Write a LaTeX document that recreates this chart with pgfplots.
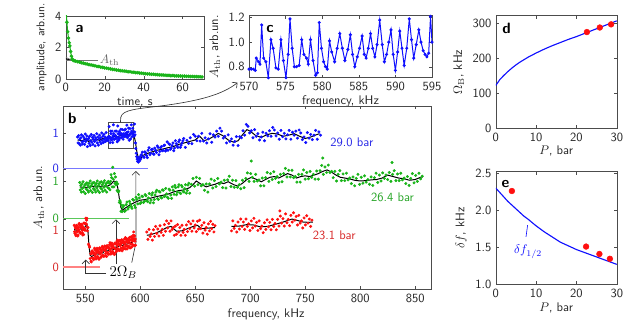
\documentclass[border=0pt]{standalone}
\usepackage{pgfplots}
\pgfplotsset{compat=1.18}
\usepackage{pgfplotstable}
\usetikzlibrary{arrows.meta}
\renewcommand{\familydefault}{\sfdefault}
\definecolor{pblue}{RGB}{15,15,255}
\definecolor{pgreen}{RGB}{25,180,25}
\definecolor{pred}{RGB}{255,15,15}
\definecolor{lblue}{RGB}{120,120,255}
\definecolor{lgreen}{RGB}{90,200,90}
\definecolor{lred}{RGB}{255,130,130}
\definecolor{tblue}{RGB}{40,40,230}
\definecolor{tgreen}{RGB}{40,165,40}
\definecolor{tred}{RGB}{215,40,40}
\pgfplotsset{
  myax/.style={scale only axis, anchor=south west,
    axis line style={black!70}, tick style={black!70}, major tick length=2.5pt,
    tick label style={font=\normalsize, text=black!85},
    label style={font=\normalsize, text=black!85},
    /pgf/number format/assume math mode=true},
  dec1/.style={yticklabel style={/pgf/number format/.cd, fixed, fixed zerofill, precision=1}},
}
% ---------------- panel a
\pgfplotstableread{
x y
0.3 4.2
0.6 3.6
1.0 3.0
1.4 2.6
1.8 2.3
2.1 2.1
2.5 1.75
2.9 1.45
3.3 1.27
3.8 1.19
4.3 1.16
5 1.14
6 1.10
7 1.08
8 1.03
9 1.01
10 0.97
11 0.95
12 0.91
13 0.89
14 0.86
15 0.84
16 0.80
17 0.79
18 0.75
19 0.74
20 0.70
21 0.69
22 0.66
23 0.64
24 0.61
25 0.60
26 0.57
27 0.56
28 0.53
29 0.52
30 0.50
31 0.49
32 0.46
33 0.46
34 0.43
35 0.43
36 0.40
37 0.40
38 0.37
39 0.37
40 0.35
41 0.34
42 0.32
43 0.32
44 0.30
45 0.30
46 0.28
47 0.28
48 0.26
49 0.26
50 0.25
51 0.24
52 0.23
53 0.23
54 0.21
55 0.22
56 0.20
57 0.20
58 0.19
59 0.19
60 0.18
61 0.18
62 0.17
63 0.17
64 0.16
65 0.16
66 0.15
67 0.15
68 0.14
69 0.14
70 0.13
}\adata
\pgfplotstableread{
x y
0 1.28
5 1.15
10 0.98
15 0.83
20 0.69
25 0.58
30 0.49
35 0.42
40 0.36
45 0.31
50 0.26
55 0.22
60 0.19
65 0.17
70 0.15
}\afit
% ---------------- panel c (also blue 570-595 in b)
\pgfplotstableread{
x y
570.0 0.78
570.3 0.78
570.6 0.78
570.85 0.77
571.0 0.87
571.3 0.84
571.5 0.82
571.73 1.14
572.0 0.87
572.3 0.84
572.64 0.71
573.0 1.02
573.3 0.95
573.68 0.79
574.0 0.78
574.36 1.02
574.7 0.85
575.05 0.71
575.35 0.90
575.6 1.19
575.9 0.95
576.2 0.80
576.5 0.80
576.85 0.81
577.2 1.02
577.5 0.90
577.86 0.87
578.1 0.82
578.4 1.02
578.75 0.85
579.1 0.73
579.35 0.75
579.6 1.16
579.9 0.95
580.2 0.84
580.45 0.80
580.7 0.78
581.0 1.01
581.3 0.92
581.7 0.84
582.05 0.95
582.4 1.07
582.75 0.95
583.1 0.85
583.5 0.94
583.85 1.06
584.15 0.90
584.45 0.80
584.8 0.88
585.1 0.95
585.45 1.05
585.75 0.90
586.0 0.87
586.3 0.95
586.6 1.07
586.9 0.95
587.2 0.88
587.5 0.98
587.86 1.18
588.2 0.98
588.5 0.84
588.8 0.90
589.1 1.00
589.4 1.10
589.7 0.90
590.0 0.77
590.3 0.92
590.6 1.09
590.9 0.95
591.2 0.81
591.55 0.95
591.9 1.19
592.2 1.02
592.5 0.87
592.85 0.98
593.2 1.10
593.5 1.00
593.8 0.93
594.05 0.90
594.3 0.88
594.55 0.91
594.8 1.21
595.0 1.00
}\cdata
% ---------------- panel b, blue scatter
\pgfplotstableread{
x y
543.0 0.86
543.5 0.70
544.0 0.90
544.5 0.68
545.0 0.80
545.5 0.64
546.0 0.84
546.5 0.92
547.0 0.73
547.5 0.67
548.0 0.88
548.5 0.75
549.0 0.83
549.5 0.66
550.0 0.94
550.5 0.74
551.0 0.81
551.5 0.89
552.0 0.60
552.5 0.79
553.0 0.82
553.5 0.69
554.0 0.88
554.5 0.63
555.0 0.76
555.5 0.93
556.0 0.72
556.5 0.85
557.0 0.66
557.5 0.80
558.0 0.90
558.5 0.74
559.0 0.62
559.5 0.84
560.0 0.78
560.5 0.95
561.0 0.70
561.5 0.86
562.0 0.64
562.5 0.81
563.0 0.91
563.5 0.73
564.0 0.84
564.5 0.68
565.0 0.97
565.5 0.77
566.0 0.88
566.5 0.71
567.0 0.93
567.5 0.80
568.0 0.86
568.5 0.74
569.0 0.98
569.5 0.82
595.3 0.92
595.7 0.70
596.0 0.55
596.4 0.42
596.8 0.33
597.2 0.26
597.6 0.20
598.0 0.30
598.4 0.18
598.8 0.24
599.2 0.28
599.6 0.22
600.0 0.33
600.5 0.27
601.0 0.38
602 0.45
603.5 0.31
605 0.43
606.5 0.30
608 0.57
609.5 0.42
611 0.53
612.5 0.39
614 0.50
615.5 0.62
617 0.38
618.5 0.57
620 0.49
621.5 0.63
623 0.48
624.5 0.73
626 0.68
627.5 0.53
629 0.63
630.5 0.49
632 0.76
633.5 0.62
635 0.73
636.5 0.58
638 0.70
639.5 0.82
641 0.58
642.5 0.77
644 0.69
645.5 0.84
647 0.68
648.5 0.93
650 0.88
651.5 0.76
653 0.88
654.5 0.75
656 0.96
657.5 0.75
659 0.84
660.5 0.70
662 0.81
663.5 0.95
665 0.72
666.5 0.92
668 0.86
669.5 1.02
671 0.88
672.5 1.10
674 1.02
675.5 0.83
677 0.88
678.5 0.70
680 0.92
681.5 0.74
683 0.81
684.5 0.64
686 0.74
687.5 0.87
689 0.63
690.5 0.87
692 0.84
693.5 1.03
695 0.91
696.5 1.20
698 1.15
699.5 0.97
701 1.03
702.5 0.84
704 1.06
705.5 0.88
707 0.95
708.5 0.78
710 0.86
711.5 0.99
713 0.76
714.5 0.96
716 0.89
717.5 1.03
719 0.88
720.5 1.12
722 1.05
723.5 0.89
725 0.97
726.5 0.80
728 1.04
729.5 0.87
731 0.96
732.5 0.81
734 0.92
735.5 1.04
737 0.80
738.5 0.99
740 0.91
741.5 1.02
743 0.83
744.5 1.05
746 0.97
747.5 0.79
749 0.86
750.5 0.71
752 0.98
753.5 0.83
755 0.93
756.5 0.79
758 0.91
759.5 1.04
761 0.80
762.5 1.00
764 0.91
602.8 0.33
604.2 0.46
605.8 0.36
607.2 0.50
608.8 0.38
610.2 0.52
611.8 0.41
613.2 0.56
614.8 0.44
616.2 0.58
617.8 0.47
619.2 0.60
620.8 0.50
622.2 0.64
623.8 0.52
625.2 0.50
626.8 0.66
628.2 0.56
629.8 0.70
631.2 0.56
632.8 0.68
634.2 0.58
635.8 0.78
637.2 0.64
638.8 0.76
}\bblue
\pgfplotstableread{
x y
543 0.78
547 0.76
550 0.80
553 0.74
556 0.78
560 0.80
563 0.77
566 0.82
570 0.85
573 0.83
576 0.88
579 0.86
582 0.90
585 0.91
588 0.93
590 0.92
592 0.98
594 0.95
595.5 0.75
597 0.45
598.5 0.28
600 0.25
602 0.35
605 0.40
610 0.45
615 0.50
620 0.53
625 0.57
630 0.60
635 0.66
640 0.70
645 0.74
650 0.78
654 0.88
658 0.76
662 0.80
667 0.88
671 0.96
675 0.90
680 0.78
685 0.72
689 0.76
693 0.92
697 1.06
700 1.02
705 0.90
710 0.85
715 0.92
720 0.96
725 0.94
730 0.88
735 0.91
740 0.95
745 0.88
750 0.82
755 0.86
760 0.92
763 0.95
}\bblueline
% ---------------- panel b, green scatter
\pgfplotstableread{
x y
545.0 0.98
545.5 0.78
546.0 0.90
546.5 0.72
547.0 0.94
547.5 0.82
548.0 1.00
548.5 0.73
549.0 0.86
549.5 0.91
550.0 0.68
550.5 0.94
551.0 0.80
551.5 0.97
552.0 0.77
552.5 0.90
553.0 0.72
553.5 0.96
554.0 0.84
554.5 1.02
555.0 0.76
555.5 0.89
556.0 0.94
556.5 0.71
557.0 0.97
557.5 0.81
558.0 0.98
558.5 0.78
559.0 0.90
559.5 0.72
560.0 0.95
560.5 0.83
561.0 1.02
561.5 0.76
562.0 0.89
562.5 0.94
563.0 0.71
563.5 0.98
564.0 0.83
564.5 1.00
565.0 0.80
565.5 0.92
566.0 0.74
566.5 0.97
567.0 0.85
567.5 1.03
568.0 0.77
568.5 0.90
569.0 0.95
569.5 0.72
570.0 0.98
570.5 0.84
571.0 1.01
571.5 0.82
572.0 0.95
572.5 0.78
573.0 1.01
573.5 1.19
574.0 1.11
574.5 0.86
575.0 1.39
575.5 1.07
576.0 0.86
576.5 1.22
577.0 0.96
577.5 1.13
578.0 0.92
578.5 0.99
579.0 0.76
579.5 0.94
580.0 0.72
580.5 0.75
581.0 0.44
581.5 0.49
582.0 0.45
582.5 0.20
583.0 0.37
583.5 0.19
584.0 0.30
585.0 0.35
586.5 0.22
588.0 0.45
589.5 0.31
591.0 0.40
592.5 0.28
594.0 0.50
595.5 0.30
597.0 0.52
598.5 0.65
600.0 0.41
601.5 0.61
603.0 0.44
604.5 0.65
606.0 0.49
607.5 0.56
609.0 0.43
610.5 0.64
612.0 0.43
613.5 0.64
615.0 0.77
616.5 0.52
618.0 0.72
619.5 0.56
621.0 0.77
622.5 0.61
624.0 0.67
625.5 0.55
627.0 0.77
628.5 0.55
630.0 0.77
631.5 0.90
633.0 0.65
634.5 0.86
636.0 0.70
637.5 0.90
639.0 0.74
640.5 0.81
642.0 0.69
643.5 0.91
645.0 0.69
646.5 0.93
648.0 1.09
649.5 0.88
651.0 1.12
652.5 0.92
654.0 1.09
655.5 0.89
657.0 0.92
658.5 0.77
660.0 0.94
661.5 0.72
663.0 0.94
664.5 1.07
666.0 0.83
667.5 1.03
669.0 0.87
670.5 1.09
672.0 0.94
673.5 0.99
675.0 0.84
676.5 1.04
678.0 0.83
679.5 1.05
681.0 1.15
682.5 0.87
684.0 1.04
685.5 0.85
687.0 1.03
688.5 0.85
690.0 0.92
691.5 0.81
693.0 1.04
694.5 0.84
696.0 1.09
697.5 1.24
699.0 1.01
700.5 1.22
701.0 1.56
702.0 1.12
703.5 1.01
705.0 1.20
706.5 1.02
708.0 1.05
709.5 0.89
711.0 1.10
712.5 0.89
714.0 1.11
715.5 1.25
717.0 1.01
718.5 1.22
720.0 1.06
721.5 1.27
723.0 1.09
724.5 1.14
726.0 0.98
727.5 1.20
729.0 1.00
730.5 1.22
732.0 1.36
733.5 1.13
735.0 1.31
736.5 1.13
738.0 1.31
739.5 1.11
741.0 1.14
742.5 0.99
744.0 1.20
745.5 0.99
747.0 1.20
748.5 1.32
750.0 1.07
751.5 1.25
753.0 1.08
754.5 1.28
756.0 1.12
757.5 1.20
759.0 1.07
760.5 1.29
762.0 1.07
763.5 1.30
765.0 1.44
766.0 1.64
766.5 1.20
768.0 1.40
769.5 1.25
771.0 1.45
772.5 1.25
774.0 1.28
775.5 1.11
777.0 1.28
778.5 1.02
780.0 1.20
781.5 1.30
783.0 1.03
784.5 1.21
786.0 1.03
787.5 1.23
789.0 1.05
790.5 1.10
792.0 0.95
793.5 1.13
795.0 0.89
796.5 1.09
798.0 1.20
799.5 0.93
801.0 1.12
802.5 0.96
804.0 1.16
805.5 0.99
807.0 1.06
808.5 0.93
810.0 1.13
811.5 0.90
813.0 1.11
814.5 1.23
816.0 0.98
817.5 1.18
819.0 1.02
820.5 1.24
822.0 1.09
823.5 1.18
825.0 1.06
826.5 1.25
828.0 1.01
829.0 1.52
829.5 1.20
831.0 1.30
832.5 1.03
834.0 1.21
835.5 1.03
837.0 1.23
838.5 1.05
840.0 1.10
841.5 0.95
843.0 1.14
844.5 0.90
846.0 1.09
847.5 1.22
849.0 0.97
850.5 1.17
852.0 1.01
853.5 1.23
855.0 1.08
856.5 1.15
585.8 0.20
587.2 0.38
588.8 0.26
590.2 0.47
591.8 0.33
593.2 0.52
594.8 0.36
596.2 0.58
597.8 0.40
599.2 0.56
600.8 0.44
602.2 0.60
603.8 0.47
605.2 0.62
606.8 0.46
608.2 0.68
609.8 0.50
611.2 0.70
612.8 0.52
614.2 0.72
615.8 0.54
617.2 0.74
618.8 0.58
620.2 0.78
621.8 0.60
623.2 0.82
624.8 0.58
626.2 0.80
627.8 0.64
629.2 0.86
630.8 0.66
632.2 0.84
633.8 0.72
635.2 0.92
636.8 0.68
638.2 0.86
639.8 0.72
641.2 0.92
642.8 0.76
644.2 0.96
}\bgreen
\pgfplotstableread{
x y
545 0.86
550 0.84
555 0.87
560 0.86
565 0.88
570 0.88
573 0.92
576 1.02
578 1.00
579.5 0.85
581 0.55
582.5 0.30
584 0.22
586 0.28
590 0.36
595 0.44
600 0.50
605 0.52
610 0.56
615 0.60
620 0.63
625 0.66
630 0.72
635 0.76
640 0.78
645 0.84
648 0.92
651 1.02
655 0.94
660 0.86
664 0.90
668 0.93
672 0.98
676 0.95
680 1.00
685 0.92
689 0.88
693 0.96
697 1.06
701 1.12
706 1.06
710 1.00
714 1.06
718 1.12
722 1.14
726 1.10
730 1.16
734 1.22
738 1.18
742 1.10
746 1.14
750 1.16
754 1.14
758 1.18
762 1.22
766 1.28
770 1.32
774 1.26
778 1.18
782 1.12
786 1.10
790 1.08
795 1.04
800 1.02
805 1.03
810 1.05
815 1.06
820 1.10
825 1.18
830 1.14
835 1.10
840 1.08
845 1.04
850 1.06
855 1.12
857 1.14
}\bgreenline
% ---------------- panel b, red scatter
\pgfplotstableread{
x y
540.0 1.13
540.5 0.92
541.0 1.06
541.5 0.85
542.0 1.13
542.5 0.95
543.0 1.06
543.5 0.87
544.0 1.02
544.5 1.18
545.0 0.95
545.5 1.15
546.0 0.91
546.5 1.06
547.0 1.13
547.5 0.92
548.0 1.05
548.5 0.88
549.0 1.19
549.5 1.04
550.0 1.18
550.5 1.32
551.0 1.16
551.5 1.32
552.0 0.98
552.5 1.07
553.0 0.62
553.5 0.58
554.0 0.54
554.5 0.23
555.0 0.36
555.5 0.14
556.0 0.42
556.5 0.25
557.0 0.39
557.5 0.20
558.0 0.35
558.5 0.51
559.0 0.28
559.5 0.48
560.0 0.23
560.5 0.39
561.0 0.47
561.5 0.26
562.0 0.40
562.5 0.21
563.0 0.52
563.5 0.35
564.0 0.48
564.5 0.28
565.0 0.41
565.5 0.56
566.0 0.31
566.5 0.52
567.0 0.29
567.5 0.46
568.0 0.56
568.5 0.36
569.0 0.49
569.5 0.29
570.0 0.57
570.5 0.40
571.0 0.54
571.5 0.35
572.0 0.50
572.5 0.66
573.0 0.42
573.5 0.62
574.0 0.37
574.5 0.52
575.0 0.60
575.5 0.39
576.0 0.52
576.5 0.34
577.0 0.65
577.5 0.49
578.0 0.63
578.5 0.43
579.0 0.58
579.5 0.73
580.0 0.49
580.5 0.69
581.0 0.45
581.5 0.62
582.0 0.71
582.5 0.51
583.0 0.64
583.5 0.44
584.0 0.72
584.5 0.55
585.0 0.69
585.5 0.50
586.0 0.65
586.5 0.80
587.0 0.56
587.5 0.74
588.0 0.49
588.5 0.66
589.0 0.76
589.5 0.57
590.0 0.72
590.5 0.52
591.0 0.81
591.5 0.62
592.0 0.74
592.5 0.55
593.0 0.70
593.5 0.86
594.0 0.95
594.5 0.83
595.0 0.59
595.5 0.76
540.25 0.96
540.75 1.10
541.25 0.89
541.75 1.04
542.25 1.12
542.75 0.97
543.25 0.84
543.75 1.07
544.25 1.16
544.75 0.96
545.25 1.12
545.75 0.93
546.25 1.08
546.75 1.16
547.25 0.99
547.75 0.87
548.25 1.08
548.75 1.19
549.25 1.00
549.75 1.18
550.25 1.00
550.75 1.17
551.25 1.27
551.75 1.08
555.25 0.16
555.75 0.36
556.25 0.44
556.75 0.24
557.25 0.40
557.75 0.22
558.25 0.38
558.75 0.47
559.25 0.33
559.75 0.22
560.25 0.43
560.75 0.51
561.25 0.29
561.75 0.44
562.25 0.25
562.75 0.41
563.25 0.51
563.75 0.38
564.25 0.26
564.75 0.46
565.25 0.54
565.75 0.32
566.25 0.48
566.75 0.30
567.25 0.46
567.75 0.57
568.25 0.43
568.75 0.30
569.25 0.51
569.75 0.58
570.25 0.38
570.75 0.54
571.25 0.35
571.75 0.52
572.25 0.61
572.75 0.47
573.25 0.35
573.75 0.57
574.25 0.65
574.75 0.43
575.25 0.57
575.75 0.36
576.25 0.52
576.75 0.63
577.25 0.50
577.75 0.40
578.25 0.62
578.75 0.70
579.25 0.50
579.75 0.65
580.25 0.46
580.75 0.62
581.25 0.72
581.75 0.58
582.25 0.46
582.75 0.66
583.25 0.74
583.75 0.52
584.25 0.68
584.75 0.49
585.25 0.65
585.75 0.76
586.25 0.61
586.75 0.49
587.25 0.69
587.75 0.77
588.25 0.57
588.75 0.73
589.25 0.54
589.75 0.71
590.25 0.80
590.75 0.65
591.25 0.52
591.75 0.73
592.25 0.82
592.75 0.62
593.25 0.78
593.75 0.59
594.25 0.75
594.75 0.85
595.25 0.70
595.75 0.59
606 0.95
607 0.75
608 1.02
609 0.83
610 0.90
611 0.73
612 1.01
613 0.83
614 1.10
615 0.91
616 1.03
617 0.84
618 1.12
619 0.94
620 1.02
621 0.86
622 1.15
623 0.97
624 1.25
625 1.06
626 1.18
627 0.97
628 1.25
629 1.02
630 1.07
631 0.86
632 1.11
633 0.89
634 1.15
635 0.95
636 1.07
637 0.86
638 1.13
639 0.94
640 1.02
641 0.86
642 1.14
643 0.96
644 1.23
645 1.04
646 1.17
647 0.97
648 1.25
649 1.06
650 1.14
651 0.96
652 1.24
653 1.03
654 1.27
655 1.04
656 1.13
657 0.92
658 1.20
659 1.00
660 1.07
661 0.89
662 1.17
663 0.98
664 1.24
665 1.04
666 1.16
667 0.95
668 1.12
683.0 0.98
684.2 1.25
685.4 1.05
686.6 1.13
687.8 0.95
689.0 1.22
690.2 1.03
691.4 1.30
692.6 1.10
693.8 1.22
695.0 1.02
696.2 1.30
697.4 1.10
698.6 1.17
699.8 0.99
701.0 1.25
702.2 1.06
703.4 1.32
704.6 1.11
705.8 1.21
707.0 0.99
708.2 1.25
709.4 1.04
710.6 1.11
711.8 0.93
713.0 1.20
714.2 1.02
715.4 1.28
716.6 1.09
717.8 1.21
719.0 1.01
720.2 1.29
721.4 1.10
722.6 1.18
723.8 1.01
725.0 1.29
726.2 1.11
727.0 1.52
727.4 1.38
728.6 1.19
729.8 1.31
731.0 1.11
732.2 1.44
733.4 1.20
734.6 1.29
735.8 1.12
737.0 1.40
738.2 1.22
739.4 1.47
740.6 1.27
741.8 1.37
743.0 1.14
744.2 1.40
745.4 1.19
746.6 1.25
747.8 1.06
749.0 1.33
750.2 1.14
751.4 1.39
752.6 1.19
753.8 1.30
755.0 1.10
756.2 1.27
}\bred
\pgfplotstableread{
x y
540 1.02
543 0.98
546 1.04
548 1.00
550.5 1.12
551.5 1.15
552.5 0.95
553.5 0.55
554.5 0.32
556 0.28
558 0.33
560 0.36
562 0.35
564 0.40
566 0.38
568 0.45
570 0.43
572 0.48
574 0.50
576 0.47
578 0.55
580 0.56
582 0.60
584 0.58
586 0.63
588 0.62
590 0.67
592 0.66
594 0.70
596 0.73
}\bredlineA
\pgfplotstableread{
x y
606 0.86
610 0.88
615 0.93
620 1.00
624 1.07
628 1.10
633 0.97
638 0.98
643 1.04
648 1.10
652 1.13
656 1.04
660 1.05
664 1.06
668 1.07
}\bredlineB
\pgfplotstableread{
x y
683 1.10
690 1.11
697 1.15
703 1.14
709 1.09
716 1.10
722 1.15
728 1.20
733 1.25
738 1.30
742 1.27
748 1.22
753 1.21
757 1.22
}\bredlineC
% ---------------- panels d, e
\pgfplotstableread{
x y
0 122
1 139
2 151
3 162
4 172
5 181
6 189
7 196
8 203
9 209
10 215
12 226
14 236
16 245
18 254
20 262
22 271
24 280
26 289
28 298
30 307
}\dcurve
\pgfplotstableread{
x y
22.6 275
25.8 288
28.6 297
}\ddots
\pgfplotstableread{
x y
0 2.30
1 2.24
2 2.18
3 2.12
4 2.07
5 2.02
6 1.97
7 1.92
8 1.88
10 1.79
12 1.71
14 1.64
16 1.57
18 1.52
20 1.47
22 1.43
24 1.39
26 1.35
28 1.31
30 1.27
}\ecurve
\pgfplotstableread{
x y
4.0 2.26
22.4 1.51
25.7 1.41
28.3 1.345
}\edots
\begin{document}
\begin{tikzpicture}
\path[use as bounding box] (0,0) rectangle (501.6pt,261.6pt);
% ---- a
\begin{axis}[myax, at={(52.6pt,198.4pt)}, width=110.6pt, height=50.4pt,
  xmin=0, xmax=71, ymin=0, ymax=4, xtick={0,20,40,60}, ytick={0,2,4},
  xlabel={time, s}, ylabel={amplitude, arb.un.},
  ylabel style={font=\small}, xlabel style={yshift=3pt}]
\addplot[pgreen, line width=0.8pt, mark=*, mark size=1.0pt] table[x=x,y=y] {\adata};
\addplot[black, line width=0.8pt] table[x=x,y=y] {\afit};
\draw[black!55, line width=0.5pt] (axis cs:0,1.17) -- (axis cs:16.5,1.17);
\draw[black!55, line width=0.5pt] (axis cs:0,1.38) -- (axis cs:3.5,1.17);
\node[text=black!60, anchor=west, inner sep=1pt] at (axis cs:16.8,1.2) {$A_{\mathrm{th}}$};
\node[font=\large\bfseries, anchor=center] at (rel axis cs:0.1,0.8) {a};
\end{axis}
% ---- c
\begin{axis}[myax, dec1, at={(199.2pt,199.4pt)}, width=146.4pt, height=49.6pt,
  xmin=570, xmax=595, ymin=0.71, ymax=1.215, xtick={570,575,...,595}, ytick={0.8,1.0,1.2},
  xlabel={frequency, kHz}, ylabel={$A_{\mathrm{th}}$, arb.un.}, xlabel style={yshift=3pt}]
\addplot[pblue, line width=0.8pt, mark=*, mark size=0.8pt] table[x=x,y=y] {\cdata};
\node[font=\large\bfseries, anchor=center] at (rel axis cs:0.115,0.79) {c};
\end{axis}
% ---- d
\begin{axis}[myax, at={(396.6pt,159.0pt)}, width=96.8pt, height=90.1pt,
  xmin=0, xmax=30, ymin=0, ymax=322, xtick={0,10,20,30}, ytick={0,100,200,300},
  xlabel={$P$, bar}, ylabel={$\Omega_{\mathrm{B}}$, kHz}, xlabel style={yshift=3pt}]
\addplot[pblue, line width=0.9pt] table[x=x,y=y] {\dcurve};
\addplot[only marks, mark=*, mark size=2.3pt, pred] table[x=x,y=y] {\ddots};
\node[font=\large\bfseries, anchor=center] at (rel axis cs:0.09,0.89) {d};
\end{axis}
% ---- e
\begin{axis}[myax, dec1, at={(396.6pt,34.1pt)}, width=96.8pt, height=90.1pt,
  xmin=0, xmax=30, ymin=1, ymax=2.52, xtick={0,10,20,30}, ytick={1.0,1.5,2.0,2.5},
  xlabel={$P$, bar}, ylabel={$\delta f$, kHz}, xlabel style={yshift=3pt}]
\addplot[pblue, line width=0.9pt] table[x=x,y=y] {\ecurve};
\addplot[only marks, mark=*, mark size=2.3pt, pred] table[x=x,y=y] {\edots};
\draw[pblue, line width=0.5pt] (axis cs:7.9,1.80) -- (axis cs:7.5,1.64);
\node[text=pblue, anchor=west, inner sep=1pt] at (axis cs:4.2,1.44) {$\delta f_{1/2}$};
\node[font=\large\bfseries, anchor=center] at (rel axis cs:0.08,0.89) {e};
\end{axis}
% ---- b
\begin{axis}[myax, at={(50.6pt,30.2pt)}, width=294.7pt, height=146.6pt,
  xmin=530, xmax=865, ymin=-0.6, ymax=4.36, xtick={550,600,...,850},
  ytick={0,1,1.31,2.33,2.66,3.62}, ytick pos=left,
  yticklabels={\textcolor{tred}{0},\textcolor{tred}{1},\textcolor{tgreen}{0},\textcolor{tgreen}{1},\textcolor{tblue}{0},\textcolor{tblue}{1}},
  xlabel={frequency, kHz}, ylabel={$A_{\mathrm{th}}$, arb.un.},
  xlabel style={xshift=15pt, yshift=2pt}]
\addplot[lblue, line width=1pt] coordinates {(530,2.66) (607,2.66)};
\addplot[lgreen, line width=1pt] coordinates {(530,1.31) (590,1.31)};
\addplot[lred, line width=1pt] coordinates {(530,0) (563,0)};
\addplot[only marks, mark=*, mark size=1.0pt, pblue] table[x=x,y expr=\thisrow{y}+2.66] {\bblue};
\addplot[only marks, mark=*, mark size=1.0pt, pblue] table[x=x,y expr=\thisrow{y}+2.66] {\cdata};
\addplot[only marks, mark=*, mark size=1.0pt, pgreen] table[x=x,y expr=\thisrow{y}+1.31] {\bgreen};
\addplot[only marks, mark=*, mark size=1.0pt, pred] table[x=x,y=y] {\bred};
\addplot[black, line width=0.8pt] table[x=x,y expr=\thisrow{y}+2.66] {\bblueline};
\addplot[black, line width=0.8pt] table[x=x,y expr=\thisrow{y}+1.31] {\bgreenline};
\addplot[black, line width=0.8pt] table[x=x,y=y] {\bredlineA};
\addplot[black, line width=0.8pt] table[x=x,y=y] {\bredlineB};
\addplot[black, line width=0.8pt] table[x=x,y=y] {\bredlineC};
\draw[black!70, line width=0.5pt] (axis cs:570.6,3.22) rectangle (axis cs:593.4,3.92);
\coordinate (bt) at (axis cs:582,3.92);
\node[text=tblue, anchor=west] at (axis cs:769,3.37) {29.0 bar};
\node[text=tgreen, anchor=west] at (axis cs:806,1.89) {26.4 bar};
\node[text=tred, anchor=west] at (axis cs:753,0.85) {23.1 bar};
\node[font=\large, anchor=center] at (axis cs:584.5,-0.15) {$2\Omega_B$};
\draw[black!80, line width=0.5pt, -{Straight Barb[length=3pt]}] (axis cs:569,-0.18) -- (axis cs:550.5,-0.18) -- (axis cs:550.5,0.2);
\draw[black!80, line width=0.5pt, -{Straight Barb[length=3pt]}] (axis cs:577.9,0.09) -- (axis cs:577.9,1.29);
\draw[black!80, line width=0.5pt, -{Straight Barb[length=3pt]}] (axis cs:592.3,0.12) -- (axis cs:596.2,0.68) -- (axis cs:596.0,2.6);
\node[font=\large\bfseries, anchor=center] at (rel axis cs:0.025,0.935) {b};
\end{axis}
\draw[black!80, line width=0.5pt, -{Straight Barb[length=3pt]}] (bt) -- ++(0.3pt,4pt) .. controls (98pt,174pt) and (110pt,174.5pt) .. (130pt,177pt) .. controls (160pt,181pt) and (178pt,186pt) .. (190pt,195.5pt);
\end{tikzpicture}
\end{document}
